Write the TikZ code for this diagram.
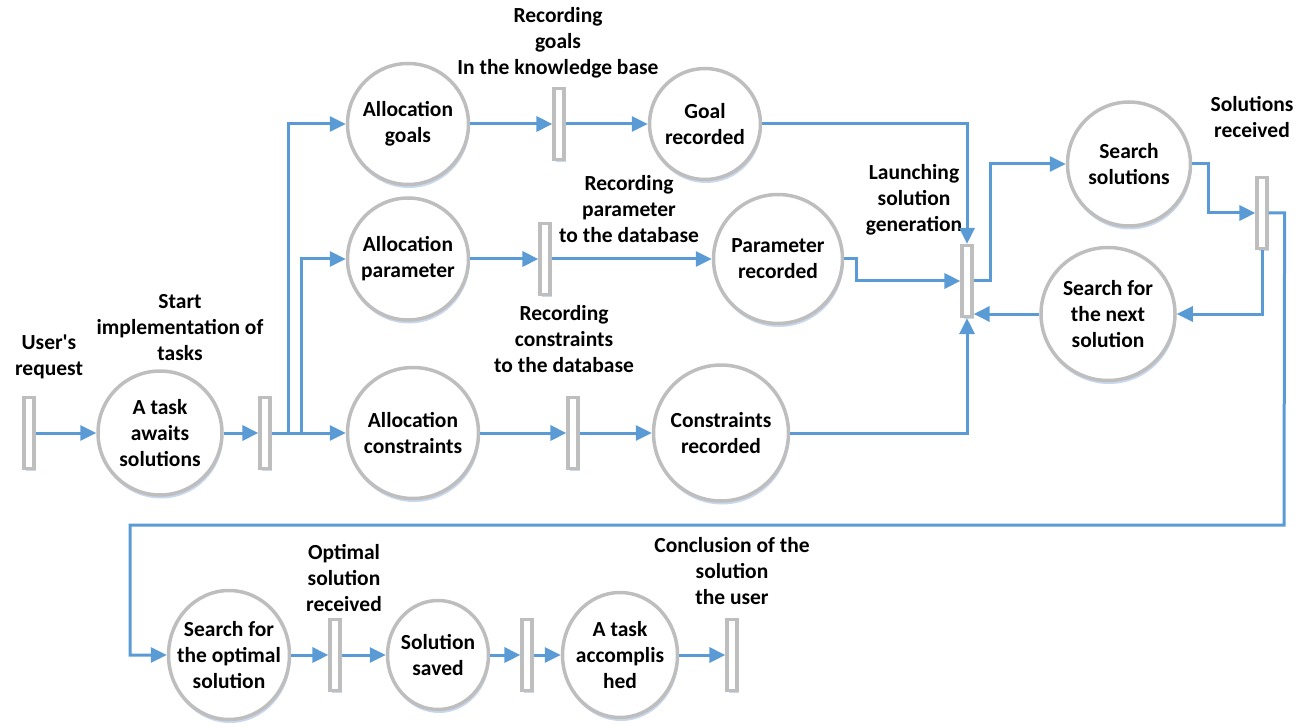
\documentclass[tikz,border=0pt]{standalone}
\usepackage{fontspec}
\setmainfont{Carlito}[Ligatures=TeXOff, BoldFont={Carlito Bold}]
\usetikzlibrary{arrows.meta,shadows,shapes.geometric}
\definecolor{flow}{RGB}{91,155,213}
\definecolor{rim}{RGB}{190,190,190}
\definecolor{shade}{RGB}{200,216,238}
\tikzset{
  txt/.style={align=center, inner sep=0pt, font=\fontsize{21.5}{26}\selectfont\bfseries},
  state/.style 2 args={ellipse, draw=rim, line width=3.5pt, fill=white, inner sep=0pt,
    minimum width=#1, minimum height=#2,
    drop shadow={shadow xshift=1pt, shadow yshift=-3.5pt, fill=shade, opacity=1}},
  bar/.style={rectangle, draw=rim, line width=3.2pt, fill=white, inner sep=0pt,
    minimum width=10, minimum height=71,
    drop shadow={shadow xshift=1.5pt, shadow yshift=-2.5pt, fill=shade, opacity=1}},
  link/.style={draw=flow, line width=3pt, -{Triangle[length=16pt,width=15pt]}},
  wire/.style={draw=flow, line width=3pt},
}
\begin{document}
\begin{tikzpicture}[x=1pt,y=-1pt]
\useasboundingbox (0,0) rectangle (1306,727);

% captions of the transitions
\node[txt] (lUser)   at (49,357)   {User's\\request};
\node[txt] (lStart)  at (180,328)  {Start\\implementation of\\tasks};
\node[txt] (lGoals)  at (558,43)   {Recording\\goals\\In the knowledge base};
\node[txt] (lParam)  at (629,209)  {Recording\\parameter\\to the database};
\node[txt] (lCons)   at (564,339)  {Recording\\constraints\\to the database};
\node[txt] (lLaunch) at (914,200)  {Launching\\solution\\generation};
\node[txt] (lRecv)   at (1252,117) {Solutions\\received};
\node[txt] (lOpt)    at (344,578)  {Optimal\\solution\\received};
\node[txt] (lConcl)  at (732,571)  {Conclusion of the\\solution\\the user};

% states
\node[state={124}{124}] (t1) at (160,433) {};
\node[state={121}{121}] (a1) at (408,124) {};
\node[state={121}{122}] (a2) at (408,259) {};
\node[state={131}{131}] (a3) at (413,433) {};
\node[state={111}{111}] (gr) at (705,124) {};
\node[state={129}{129}] (pr) at (778,259) {};
\node[state={135}{136}] (cr) at (721,433) {};
\node[state={123}{124}] (ss) at (1129,164) {};
\node[state={134}{133}] (sn) at (1108,314) {};
\node[state={121}{129}] (so) at (229,655) {};
\node[state={101}{109}] (sv) at (438,655) {};
\node[state={115}{125}] (ta) at (620,655) {};

\node[txt] (t1t) at (t1) {A task\\awaits\\solutions};
\node[txt] (a1t) at (a1) {Allocation\\goals};
\node[txt] (a2t) at (a2) {Allocation\\parameter};
\node[txt] (a3t) at (a3) {Allocation\\constraints};
\node[txt] (grt) at (gr) {Goal\\recorded};
\node[txt] (prt) at (pr) {Parameter\\recorded};
\node[txt] (crt) at (cr) {Constraints\\recorded};
\node[txt] (sst) at (ss) {Search\\solutions};
\node[txt] (snt) at (sn) {Search for\\the next\\solution};
\node[txt] (sot) at (so) {Search for\\the optimal\\solution};
\node[txt] (svt) at (sv) {Solution\\saved};
\node[txt] (tat) at (ta) {A task\\accomplis\\hed};

% transitions
\node[bar] (b0) at (29,433)   {};
\node[bar] (b1) at (265,433)  {};
\node[bar] (bg) at (559,124)  {};
\node[bar] (bp) at (545,259)  {};
\node[bar] (bc) at (573,433)  {};
\node[bar] (bL) at (967,281)  {};
\node[bar] (bR) at (1262,213) {};
\node[bar] (b5) at (335,655)  {};
\node[bar] (b6) at (527,655)  {};
\node[bar] (b7) at (732,655)  {};

% routing points
\coordinate (j1) at (288,433);
\coordinate (j2) at (301,433);
\coordinate (r1) at (1284,525);
\coordinate (r2) at (130,525);

% connectors
\draw[link] (b0.east) -- (t1.west);
\draw[link] (t1.east) -- (b1.west);
\draw[wire] (b1.east) -- (j2);
\draw[link] (j1) |- (a1.west);
\draw[link] (j2) |- (a2.west);
\draw[link] (j2) -- (a3.west);

\draw[link] (a1.east) -- (bg.west);
\draw[link] (bg.east) -- (gr.west);
\draw[link] (a2.east) -- (bp.west);
\draw[link] (bp.east) -- (pr.west);
\draw[link] (a3.east) -- (bc.west);
\draw[link] (bc.east) -- (cr.west);

\draw[link] (gr.east) -| (bL.north);
\draw[link] (pr.east) -- ++(12,0) |- (bL.west);
\draw[link] (cr.east) -| (bL.south);

\draw[link] (bL.east) -- ++(17,0) |- (ss.west);
\draw[link] (ss.east) -- ++(16,0) |- (bR.west);
\draw[link] (bR.south) |- (sn.east);
\draw[link] (sn.west) -- (sn.west -| bL.east);

\draw[link] (bR.east) -- ++(16,0) -- (r1) -- (r2) |- (so.west);
\draw[link] (so.east) -- (b5.west);
\draw[link] (b5.east) -- (sv.west);
\draw[link] (sv.east) -- (b6.west);
\draw[link] (b6.east) -- (ta.west);
\draw[link] (ta.east) -- (b7.west);
\end{tikzpicture}
\end{document}
